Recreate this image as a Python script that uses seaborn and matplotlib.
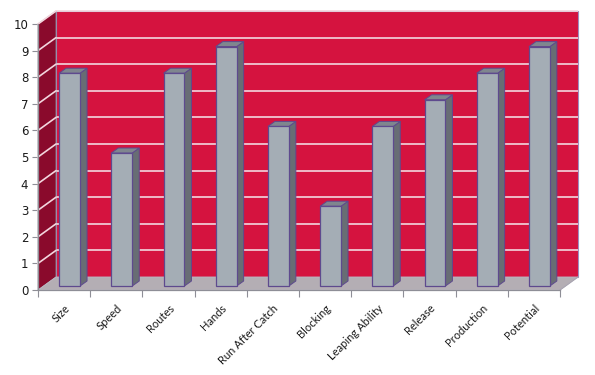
import matplotlib
matplotlib.use("Agg")
import matplotlib.pyplot as plt
from matplotlib.patches import Polygon, Rectangle
from matplotlib.transforms import ScaledTranslation
import seaborn as sns
import pandas as pd

categories = ["Size", "Speed", "Routes", "Hands", "Run After Catch", "Blocking",
              "Leaping Ability", "Release", "Production", "Potential"]
values = [8, 5, 8, 9, 6, 3, 6, 7, 8, 9]
yticks = list(range(0, 11))

df = pd.DataFrame({"cat": categories, "val": values})

sns.set_theme(style="white")
plt.rcParams["font.family"] = ["DejaVu Sans"]

fig = plt.figure(figsize=(5.95, 3.75), dpi=100, facecolor="white")
L, R, B, T = 38, 560, 290, 24
ax = fig.add_axes([L / 595, 1 - B / 375, (R - L) / 595, (B - T) / 375])
ax.set_facecolor("none")
ax.set_xlim(-0.5, 9.5)
ax.set_ylim(0, 10)

pxx = (R - L) / 10.0        # pixels per x unit
pxy = (B - T) / 10.0        # pixels per y unit
DX, DY = 18, 13             # depth offset (px)
ddx, ddy = DX / pxx, DY / pxy

wall_red = "#D5133F"
side_red = "#8A0A2C"
floor_c = "#B4AEB4"
grid_c = "#F3D6DE"

# back wall
ax.add_patch(Rectangle((-0.5 + ddx, ddy), 10, 10, facecolor=wall_red,
                       edgecolor="#9C8FC0", lw=0.8, zorder=0.5, clip_on=False))
for t in yticks[1:]:
    ax.plot([-0.5 + ddx, 9.5 + ddx], [t + ddy, t + ddy], color=grid_c, lw=1.2,
            zorder=0.6, clip_on=False, solid_capstyle="butt")
# side wall
ax.add_patch(Polygon([(-0.5, 0), (-0.5 + ddx, ddy), (-0.5 + ddx, 10 + ddy), (-0.5, 10)],
                     closed=True, facecolor=side_red, edgecolor="#8E8A95", lw=0.6,
                     zorder=0.7, clip_on=False))
for t in yticks[1:]:
    ax.plot([-0.5, -0.5 + ddx], [t, t + ddy], color=grid_c, lw=1.2, zorder=0.8,
            clip_on=False)
# floor
ax.add_patch(Polygon([(-0.5, 0), (9.5, 0), (9.5 + ddx, ddy), (-0.5 + ddx, ddy)],
                     closed=True, facecolor=floor_c, edgecolor="#BDB8C4", lw=0.6,
                     zorder=0.7, clip_on=False))

# bars
sns.barplot(data=df, x="cat", y="val", color="#A4ADB5", width=0.4, saturation=1,
            edgecolor="#5E4A8E", linewidth=0.9, ax=ax, zorder=2)
bx, by = 5.5 / 100, 4 / 100
sx, sy = 7 / 100, 5 / 100
off = ax.transData + ScaledTranslation(bx, by, fig.dpi_scale_trans)
doff = ax.transData + ScaledTranslation(bx, by, fig.dpi_scale_trans)
for p in list(ax.patches):
    if not isinstance(p, Rectangle) or p.get_width() > 5:
        continue
    if p.get_facecolor()[:3] != matplotlib.colors.to_rgba("#A4ADB5")[:3]:
        continue
    p.set_transform(off)
    x0, w, h = p.get_x(), p.get_width(), p.get_height()
    x1 = x0 + w
    sdx, sdy = sx * 100 / pxx, sy * 100 / pxy
    side = Polygon([(x1, 0), (x1 + sdx, sdy), (x1 + sdx, h + sdy), (x1, h)], closed=True,
                   facecolor="#686D74", edgecolor="#5E4A8E", lw=0.7, zorder=1.9,
                   transform=doff, clip_on=False)
    top = Polygon([(x0, h), (x1, h), (x1 + sdx, h + sdy), (x0 + sdx, h + sdy)], closed=True,
                  facecolor="#7F868E", edgecolor="#5E4A8E", lw=0.7, zorder=1.9,
                  transform=doff, clip_on=False)
    ax.add_patch(side)
    ax.add_patch(top)
    p.set_clip_on(False)

# floor right edge line
ax.plot([9.5, 9.5 + ddx], [0, ddy], color="#A8A4B0", lw=0.8, clip_on=False, zorder=0.9)

for s in ["top", "right"]:
    ax.spines[s].set_visible(False)
for s in ["left", "bottom"]:
    ax.spines[s].set_color("#8E8E96")
    ax.spines[s].set_linewidth(0.9)
    ax.spines[s].set_zorder(3)

ax.set_yticks(yticks)
ax.set_yticklabels([str(t) for t in yticks], fontsize=8.5, color="#1a1a1a")
ax.set_xticks([i - 0.5 for i in range(11)])
ax.set_xticklabels([])
ax.set_xticks(range(10), minor=True)
ax.set_xticklabels(categories, minor=True, rotation=45, ha="right", rotation_mode="anchor",
                   fontsize=8, family=["Lato", "DejaVu Sans"], color="#1a1a1a")
ax.tick_params(axis="y", which="major", direction="out", length=4, width=0.8,
               color="#8E8E96", left=True, pad=3)
ax.tick_params(axis="x", which="major", direction="out", length=5, width=0.8,
               color="#8E8E96", bottom=True)
ax.tick_params(axis="x", which="minor", length=0, pad=9)
ax.set_xlabel("")
ax.set_ylabel("")

fig.savefig("out.png", dpi=100, facecolor="white")
